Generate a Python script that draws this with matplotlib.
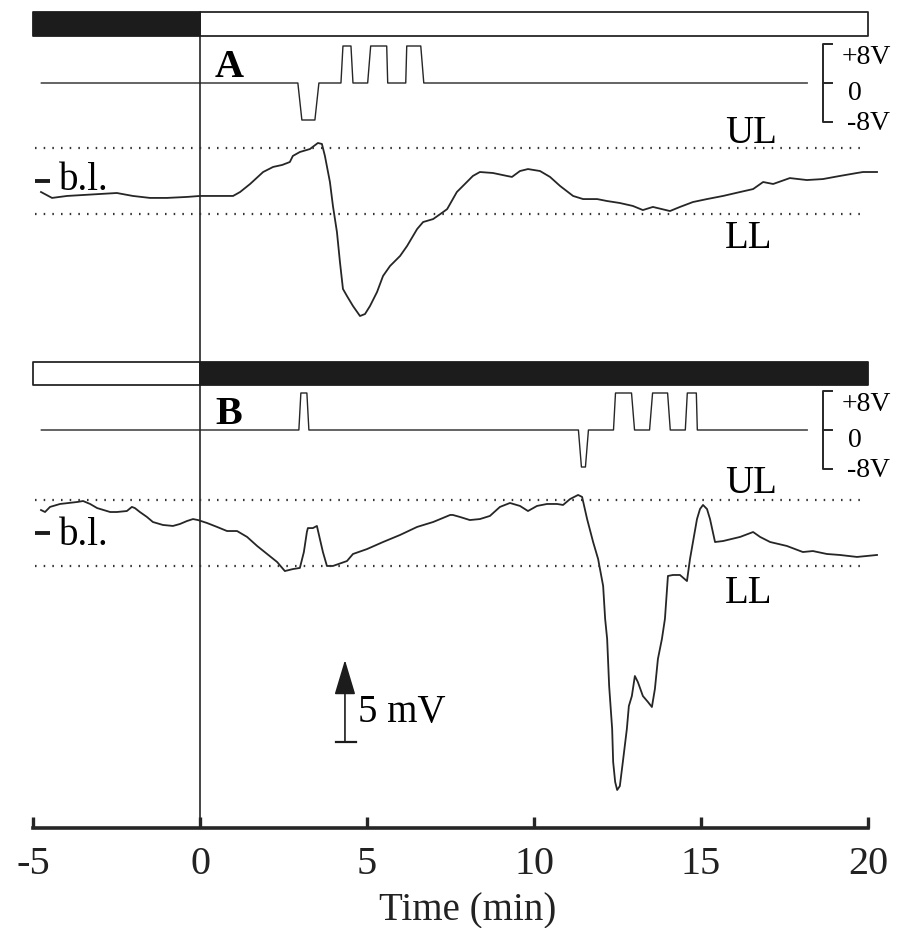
import matplotlib
matplotlib.use("Agg")
import matplotlib.pyplot as plt

plt.rcParams['font.family'] = ['Liberation Serif', 'DejaVu Serif']
plt.rcParams['axes.unicode_minus'] = False

# ---- data ----
time_ticks = [-5, 0, 5, 10, 15, 20]
time_tick_labels = ['-5', '0', '5', '10', '15', '20']

# light / dark periods (start, end) in min
dark_a = [(-5, 0)]
light_a = [(0, 20)]
light_b = [(-5, 0)]
dark_b = [(0, 20)]

# stimulus voltage (V)
stim_a_t = [-4.75, 2.93, 3.05, 3.44, 3.56, 4.22, 4.28, 4.52, 4.58, 5.02, 5.11,
            5.59, 5.62, 6.16, 6.19, 6.61, 6.70, 18.18]
stim_a_v = [0, 0, -8, -8, 0, 0, 8, 8, 0, 0, 8, 8, 0, 0, 8, 8, 0, 0]

stim_b_t = [-4.75, 2.96, 3.02, 3.20, 3.26, 11.33, 11.42, 11.54, 11.63, 12.38,
            12.44, 12.92, 13.01, 13.46, 13.55, 14.00, 14.08, 14.53, 14.59,
            14.86, 14.89, 18.18]
stim_b_v = [0, 0, 8, 8, 0, 0, -8, -8, 0, 0, 8, 8, 0, 0, 8, 8, 0, 0, 8, 8, 0, 0]

# potential relative to baseline (mV)
trace_a_t = [-4.76, -4.43, -3.98, -2.99, -2.49, -2.01, -1.50, -0.99, -0.39, 0.00,
             0.51, 0.99, 1.20, 1.50, 1.89, 2.19, 2.46, 2.69, 2.78, 2.99, 3.29,
             3.53, 3.65, 3.74, 3.89, 3.98, 4.10, 4.19, 4.28, 4.40, 4.58, 4.79,
             4.94, 5.09, 5.30, 5.48, 5.69, 5.99, 6.20, 6.50, 6.68, 6.98, 7.28,
             7.40, 7.69, 7.99, 8.17, 8.38, 8.77, 9.19, 9.34, 9.58, 9.82, 10.18,
             10.48, 10.78, 11.17, 11.47, 11.89, 12.19, 12.57, 12.96, 13.26,
             13.56, 14.07, 14.37, 14.76, 15.18, 15.66, 16.17, 16.56, 16.86,
             17.16, 17.66, 18.17, 18.65, 19.16, 19.67, 19.85, 20.27]
trace_a_mv = [-0.69, -1.05, -0.93, -0.81, -0.75, -0.93, -1.05, -1.05, -0.99,
              -0.93, -0.93, -0.93, -0.69, -0.20, 0.53, 0.84, 0.96, 1.14, 1.51,
              1.75, 1.93, 2.30, 2.24, 1.51, -0.08, -1.54, -3.13, -4.96, -6.60,
              -7.03, -7.64, -8.25, -8.13, -7.64, -6.79, -5.81, -5.20, -4.59,
              -3.98, -2.95, -2.52, -2.34, -1.91, -1.73, -0.69, -0.08, 0.29,
              0.53, 0.47, 0.29, 0.23, 0.59, 0.71, 0.59, 0.23, -0.32, -0.93,
              -1.12, -1.12, -1.24, -1.36, -1.54, -1.79, -1.60, -1.85, -1.60,
              -1.30, -1.12, -0.93, -0.69, -0.51, -0.08, -0.20, 0.16, 0.04, 0.10,
              0.29, 0.47, 0.53, 0.53]

trace_b_t = [-4.76, -4.64, -4.49, -4.19, -3.68, -3.50, -3.29, -3.08, -2.69, -2.49,
             -2.19, -2.04, -1.95, -1.80, -1.59, -1.41, -1.11, -0.81, -0.60,
             -0.39, -0.21, -0.06, 0.21, 0.51, 0.81, 1.11, 1.41, 1.71, 2.01,
             2.31, 2.54, 2.78, 2.99, 3.11, 3.20, 3.23, 3.38, 3.50, 3.59, 3.68,
             3.80, 3.98, 4.40, 4.58, 5.00, 5.48, 5.99, 6.50, 6.98, 7.49, 7.57,
             7.78, 8.08, 8.38, 8.68, 8.98, 9.28, 9.58, 9.82, 10.09, 10.39,
             10.69, 10.87, 11.08, 11.32, 11.44, 11.59, 11.77, 11.92, 12.07,
             12.13, 12.19, 12.25, 12.34, 12.37, 12.43, 12.49, 12.57, 12.66,
             12.78, 12.84, 12.93, 13.02, 13.11, 13.26, 13.41, 13.53, 13.62,
             13.71, 13.83, 13.92, 14.01, 14.16, 14.37, 14.58, 14.67, 14.88,
             14.97, 15.06, 15.18, 15.27, 15.42, 15.66, 16.17, 16.56, 16.77,
             17.07, 17.57, 18.05, 18.35, 18.77, 19.16, 19.67, 20.27]
trace_b_mv = [1.40, 1.28, 1.59, 1.77, 1.89, 1.95, 1.77, 1.52, 1.28, 1.28, 1.34,
              1.59, 1.52, 1.28, 0.98, 0.67, 0.49, 0.43, 0.55, 0.73, 0.85, 0.79,
              0.61, 0.37, 0.12, 0.12, -0.24, -0.79, -1.28, -1.77, -2.32, -2.20,
              -2.13, -1.16, 0.06, 0.30, 0.30, 0.43, -0.37, -1.16, -2.01, -2.01,
              -1.71, -1.28, -0.98, -0.55, -0.12, 0.37, 0.67, 1.10, 1.10, 0.98,
              0.79, 0.85, 1.04, 1.59, 1.83, 1.65, 1.34, 1.65, 1.77, 1.77, 1.71,
              2.07, 2.32, 2.20, 0.85, -0.55, -1.59, -3.23, -5.24, -6.46, -9.33,
              -11.95, -13.96, -15.18, -15.67, -15.43, -13.96, -11.95, -10.55,
              -9.94, -8.72, -9.09, -9.94, -10.30, -10.61, -9.51, -7.68, -6.46,
              -5.24, -2.62, -2.56, -2.56, -2.93, -1.59, 0.85, 1.46, 1.71, 1.46,
              0.85, -0.55, -0.49, -0.24, 0.06, -0.24, -0.55, -0.79, -1.16, -1.10,
              -1.28, -1.34, -1.46, -1.34]

upper_limit = 2.0    # UL (mV)
lower_limit = -2.0   # LL (mV)
scale_mv = 5

# ---- layout (pixels of the 897x929 figure) ----
W, H = 897, 929
X0, X1 = 33, 868
INK = '#262626'

fig = plt.figure(figsize=(W / 100, H / 100), dpi=100)


def add_axes(top, bottom, ylim):
    ax = fig.add_axes([X0 / W, 1 - bottom / H, (X1 - X0) / W, (bottom - top) / H])
    ax.set_xlim(-5, 20)
    ax.set_ylim(*ylim)
    ax.axis('off')
    ax.set_facecolor('none')
    return ax


# main axes: time axis and the 0 line
ax = fig.add_axes([X0 / W, 1 - 829 / H, (X1 - X0) / W, (829 - 13) / H])
ax.set_facecolor('none')
ax.set_xlim(-5, 20)
ax.set_ylim(0, 1)
for s in ['top', 'left', 'right']:
    ax.spines[s].set_visible(False)
ax.spines['bottom'].set_linewidth(2.6)
ax.spines['bottom'].set_color(INK)
ax.set_yticks([])
ax.set_xticks(time_ticks)
ax.set_xticklabels(time_tick_labels)
ax.tick_params(axis='x', direction='in', length=8, width=2.4, color=INK,
               labelsize=29, pad=12, labelcolor='#222222')
ax.axvline(0, color=INK, lw=1.2)
ax.set_xlabel('Time (min)', fontsize=28, color='#222222')
ax.xaxis.set_label_coords((468 - X0) / (X1 - X0), -(892 - 829) / (829 - 13))


def draw_bar(ax, dark, light):
    ax.broken_barh([(s, e - s) for s, e in light], (0, 1), facecolors='white',
                   edgecolor=INK, lw=1.3, clip_on=False)
    ax.broken_barh([(s, e - s) for s, e in dark], (0, 1), facecolors='#1c1c1c',
                   edgecolor='#1c1c1c', lw=1.3, clip_on=False)


def draw_stim(ax, t, v, label):
    ax.plot(t, v, color=INK, lw=1.0)
    bx, tl = 18.65, 0.27
    ax.plot([bx + tl, bx, bx, bx + tl], [8.4, 8.4, -8.4, -8.4], color=INK, lw=1.4,
            clip_on=False)
    ax.plot([bx, bx + tl], [0, 0], color=INK, lw=1.4, clip_on=False)
    ax.text(19.22, 4.3, '+8V', fontsize=20, ha='left', va='baseline')
    ax.text(19.61, -3.4, '0', fontsize=20, ha='center', va='baseline')
    ax.text(19.37, -10.0, '-8V', fontsize=20, ha='left', va='baseline')
    ax.text(0.45, 1.6, label, fontsize=29, fontweight='bold', ha='left',
            va='baseline')


def draw_trace(ax, t, mv, bl_y, ul_y, ll_y):
    ax.plot(t, mv, color=INK, lw=1.3, clip_on=False)
    for lim in (upper_limit, lower_limit):
        ax.plot([-4.94, 19.97], [lim, lim], color='#333333', lw=1.6,
                linestyle=(0, (0.7, 3.2)))
    ax.plot([-4.94, -4.49], [0, 0], color='#1c1c1c', lw=2.8, solid_capstyle='butt')
    ax.text(-4.22, bl_y, 'b.l.', fontsize=28, ha='left', va='baseline')
    ax.text(15.72, ul_y, 'UL', fontsize=28, ha='left', va='baseline')
    ax.text(15.72, ll_y, 'LL', fontsize=28, ha='left', va='baseline')


# panel A
bar_a = add_axes(13, 37, (0, 1))
draw_bar(bar_a, dark_a, light_a)
stim_a = add_axes(37.75, 130.25, (-10, 10))
draw_stim(stim_a, stim_a_t, stim_a_v, 'A')
tr_a = add_axes(181.7 - 3 * 16.4, 181.7 + 10 * 16.4, (-10, 3))
draw_trace(tr_a, trace_a_t, trace_a_mv, -0.51, 2.36, -4.04)

# panel B
bar_b = add_axes(363, 386, (0, 1))
draw_bar(bar_b, dark_b, light_b)
stim_b = add_axes(384.75, 477.25, (-10, 10))
draw_stim(stim_b, stim_b_t, stim_b_v, 'B')
tr_b = add_axes(534 - 3 * 16.4, 534 + 16.5 * 16.4, (-16.5, 3))
draw_trace(tr_b, trace_b_t, trace_b_mv, -0.67, 2.5, -4.21)

# 5 mV scale bar
sb_t, sb_bottom = 4.34, -12.74
tr_b.annotate('', xy=(sb_t, sb_bottom + scale_mv), xytext=(sb_t, sb_bottom),
              arrowprops=dict(arrowstyle='-|>,head_length=1.1,head_width=0.33',
                              mutation_scale=20, color='#1c1c1c', lw=1.2,
                              shrinkA=0, shrinkB=0))
tr_b.plot([sb_t - 0.27, sb_t + 0.33], [sb_bottom, sb_bottom], color='#1c1c1c', lw=1.6)
tr_b.text(4.73, -11.46, '5 mV', fontsize=28, ha='left', va='baseline')

fig.savefig('out.png', dpi=100)
